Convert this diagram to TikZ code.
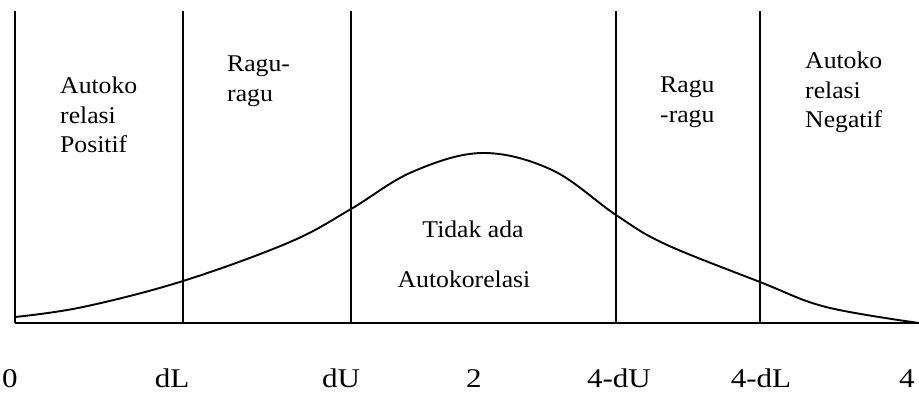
\documentclass[tikz,border=0pt]{standalone}
\usepackage{fontspec}
\setmainfont{Liberation Serif}
\usepackage{tikz}
\usetikzlibrary{positioning}

\begin{document}
\begin{tikzpicture}[
  x=1bp,y=1bp,
  zone/.style={inner sep=0pt,anchor=north west,align=left,xscale=1.07,
               font=\fontsize{24bp}{29.5bp}\selectfont},
  middle/.style={inner sep=0pt,anchor=base,xscale=1.07,
                 font=\fontsize{24bp}{29.5bp}\selectfont},
  tick/.style={inner sep=0pt,anchor=base,xscale=1.15,
               font=\fontsize{27bp}{32bp}\selectfont},
  border/.style={line width=1.9bp,draw=black},
  curve/.style={line width=1.9bp,draw=black}
]
  \useasboundingbox (0,0) rectangle (919,392);

  \coordinate (b0) at (15,69);
  \coordinate (b1) at (183,69);
  \coordinate (b2) at (351,69);
  \coordinate (b3) at (616,69);
  \coordinate (b4) at (760,69);
  \coordinate (bend) at (919,69);

  \draw[border] (b0) -- (bend);
  \draw[border] (b0) -- ++(0,312);
  \draw[border] (b1) -- ++(0,312);
  \draw[border] (b2) -- ++(0,312);
  \draw[border] (b3) -- ++(0,312);
  \draw[border] (b4) -- ++(0,312);

  \draw[curve] plot[smooth,tension=0.6] coordinates {(15,75) (83,85) (183,111)
    (290,150) (351,183) (412,220) (482,239) (552,222) (616,177) (665,148)
    (760,110) (826,85) (919,69)};

  \node[zone] (positif) at (60,315) {Autoko\\relasi\\Positif};
  \node[zone] (ragukiri) at (227,336) {Ragu-\\ragu};
  \node[middle] (tidak) at (473,155) {Tidak ada};
  \node[middle] (autokor) at (464,105) {Autokorelasi};
  \node[zone] (ragukanan) at (660,315) {Ragu\\-ragu};
  \node[zone] (negatif) at (805,340) {Autoko\\relasi\\Negatif};

  \node[tick] (zero) at (10,5) {0};
  \node[tick] (dl) at (172,5) {dL};
  \node[tick] (du) at (341,5) {dU};
  \node[tick] (two) at (474,5) {2};
  \node[tick] (fourdu) at (619,5) {4-dU};
  \node[tick] (fourdl) at (761,5) {4-dL};
  \node[tick] (four) at (907,5) {4};
\end{tikzpicture}
\end{document}
